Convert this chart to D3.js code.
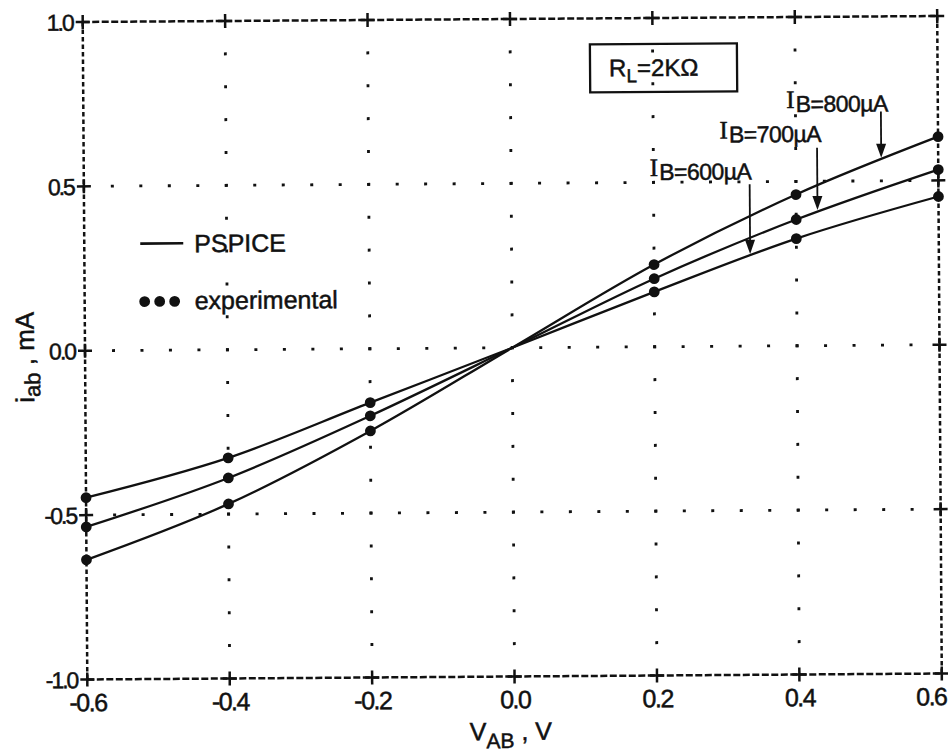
<!DOCTYPE html>
<html>
<head>
<meta charset="utf-8">
<script src="https://cdn.jsdelivr.net/npm/d3@7/dist/d3.min.js"></script>
<style>
  html, body { margin: 0; padding: 0; background: #fff; }
  svg { display: block; }
  text { font-family: "Liberation Sans", Arial, sans-serif; fill: #111; stroke: #111; stroke-width: 0.5px; }
</style>
</head>
<body>
<svg id="chart" width="948" height="754"></svg>
<script>
// ---- data ----
const vab = [-0.6, -0.4, -0.2, 0.0, 0.2, 0.4, 0.6];
const pspice800 = [-0.636, -0.469, -0.250, 0.0, 0.250, 0.460, 0.633];
const pspice700 = [-0.536, -0.390, -0.204, 0.0, 0.207, 0.384, 0.533];
const pspice600 = [-0.447, -0.329, -0.164, 0.0, 0.167, 0.326, 0.451];
const expV = [-0.6, -0.4, -0.2, 0.2, 0.4, 0.6];
const exp800 = [-0.636, -0.469, -0.250, 0.250, 0.460, 0.633];
const exp700 = [-0.536, -0.390, -0.204, 0.207, 0.384, 0.533];
const exp600 = [-0.447, -0.329, -0.164, 0.167, 0.326, 0.451];
const xTicks = [-0.6, -0.4, -0.2, 0.0, 0.2, 0.4, 0.6];
const yTicks = [-1.0, -0.5, 0.0, 0.5, 1.0];
const xGridMinor = d3.range(-14, 15).map(i => i * 0.04);
const yGridMinor = d3.range(-9, 10).map(i => i * 0.1);
const labels = ["800", "700", "600"];

// ---- layout ----
const svg = d3.select("#chart");
const x = d3.scaleLinear().domain([-0.6, 0.6]).range([85, 939.5]);
const y = d3.scaleLinear().domain([-1.0, 1.0]).range([676.5, 19]);
const g = svg.append("g").attr("transform", "rotate(-0.4, 512, 348)");
const ink = "#111";

// grid dots
const dotW = 3, dotH = 2.8;
[-0.5, 0.0, 0.5].forEach(v => {
  g.append("g").selectAll("rect").data(xGridMinor).join("rect")
    .attr("x", d => x(d) - dotW / 2).attr("y", y(v) - dotH / 2)
    .attr("width", dotW).attr("height", dotH).attr("fill", ink);
});
[-0.4, -0.2, 0.0, 0.2, 0.4].forEach(v => {
  g.append("g").selectAll("rect").data(yGridMinor).join("rect")
    .attr("x", x(v) - dotH / 2).attr("y", d => y(d) - dotW / 2)
    .attr("width", dotH).attr("height", dotW).attr("fill", ink);
});

// dashed frame
const frame = g.append("g").attr("stroke", ink).attr("stroke-width", 2.5).attr("fill", "none");
frame.append("line").attr("x1", x(-0.6)).attr("x2", x(0.6)).attr("y1", y(1)).attr("y2", y(1)).attr("stroke-dasharray", "7,2.5");
frame.append("line").attr("x1", x(-0.6)).attr("x2", x(0.6)).attr("y1", y(-1)).attr("y2", y(-1)).attr("stroke-dasharray", "7,2.5");
frame.append("line").attr("x1", x(-0.6)).attr("x2", x(-0.6)).attr("y1", y(1)).attr("y2", y(-1)).attr("stroke-dasharray", "4.5,3");
frame.append("line").attr("x1", x(0.6)).attr("x2", x(0.6)).attr("y1", y(1)).attr("y2", y(-1)).attr("stroke-dasharray", "4.5,3");

// crosses at major ticks on frame
const arm = 7;
const crossPts = [];
xTicks.forEach(v => { crossPts.push([v, 1.0]); crossPts.push([v, -1.0]); });
yTicks.filter(v => Math.abs(v) < 1).forEach(v => { crossPts.push([-0.6, v]); crossPts.push([0.6, v]); });
const cg = g.append("g").attr("stroke", ink).attr("stroke-width", 2.5);
crossPts.forEach(([a, b]) => {
  cg.append("line").attr("x1", x(a) - arm).attr("x2", x(a) + arm).attr("y1", y(b)).attr("y2", y(b));
  cg.append("line").attr("x1", x(a)).attr("x2", x(a)).attr("y1", y(b) - arm).attr("y2", y(b) + arm);
});

// axes (labels only)
const fmt = d => d.toFixed(1).replace("−", "-");
const xAxis = g.append("g").attr("transform", `translate(0,${y(-1.0)})`)
  .call(d3.axisBottom(x).tickValues(xTicks).tickSize(0).tickPadding(14).tickFormat(fmt));
const yAxis = g.append("g").attr("transform", `translate(${x(-0.6)},0)`)
  .call(d3.axisLeft(y).tickValues(yTicks).tickSize(0).tickPadding(10).tickFormat(fmt));
[xAxis, yAxis].forEach(a => {
  a.select(".domain").remove();
  a.selectAll("text").attr("fill", ink).style("font-family", "Liberation Sans, Arial, sans-serif");
});
xAxis.selectAll("text").style("font-size", "25px").style("letter-spacing", "-1.5px").attr("dy", "0.71em");
xAxis.selectAll("text").filter(d => d === 0.6).attr("text-anchor", "end").attr("dx", 4);
yAxis.selectAll("text").style("font-size", "23px").style("letter-spacing", "-2px").attr("dy", "0.35em");

// curves
const line = d3.line().x(d => x(d[0])).y(d => y(d[1])).curve(d3.curveMonotoneX);
[pspice800, pspice700, pspice600].forEach(s => {
  g.append("path").datum(vab.map((v, i) => [v, s[i]]))
    .attr("d", line).attr("fill", "none").attr("stroke", ink).attr("stroke-width", 2.3);
});
[exp800, exp700, exp600].forEach(s => {
  g.append("g").selectAll("circle").data(expV.map((v, i) => [v, s[i]])).join("circle")
    .attr("cx", d => x(d[0])).attr("cy", d => y(d[1])).attr("r", 5.4).attr("fill", ink);
});

// legend
g.append("line").attr("x1", 141).attr("x2", 184).attr("y1", 241).attr("y2", 241)
  .attr("stroke", ink).attr("stroke-width", 2.6);
g.append("text").attr("x", 195).attr("y", 250).style("font-size", "25px").text("PSPICE");
[145, 160, 175].forEach(cx => g.append("circle").attr("cx", cx).attr("cy", 299).attr("r", 5.4).attr("fill", ink));
g.append("text").attr("x", 195).attr("y", 307).style("font-size", "25px").text("experimental");

// R_L box
g.append("rect").attr("x", 592).attr("y", 45).attr("width", 147).attr("height", 48)
  .attr("fill", "none").attr("stroke", ink).attr("stroke-width", 2.3);
const rl = g.append("text").attr("x", 611).attr("y", 77).style("font-size", "24px");
rl.append("tspan").text("R");
rl.append("tspan").attr("dy", 6).style("font-size", "19px").text("L");
rl.append("tspan").attr("dy", -6).text("=2KΩ");

// I_B annotations
const ann = [
  { lab: "800", tx: 788, ty: 110, ax: 0.52, s: pspice800, ay0: 114 },
  { lab: "700", tx: 721, ty: 140, ax: 0.43, s: pspice700, ay0: 150 },
  { lab: "600", tx: 651, ty: 177, ax: 0.335, s: pspice600, ay0: 186 }
];
const interp = (s, v) => {
  const i = d3.bisectRight(vab, v) - 1;
  const t = (v - vab[i]) / (vab[i + 1] - vab[i]);
  return s[i] + t * (s[i + 1] - s[i]);
};
ann.forEach(a => {
  const t = g.append("text").attr("x", a.tx).attr("y", a.ty).style("font-size", "23px");
  t.append("tspan").style("font-family", "Liberation Serif, serif").style("font-size", "25px").text("I");
  t.append("tspan").attr("dx", 1).attr("dy", 4).style("letter-spacing", "-0.5px").text("B=" + a.lab + "µA");
  const px = x(a.ax), py = y(interp(a.s, a.ax)) - 2;
  g.append("line").attr("x1", px).attr("x2", px).attr("y1", a.ay0).attr("y2", py - 10)
    .attr("stroke", ink).attr("stroke-width", 1.8);
  g.append("path").attr("d", `M${px - 5},${py - 14} L${px + 5},${py - 14} L${px},${py} Z`).attr("fill", ink);
});

// axis titles
const xt = g.append("text").attr("x", 467).attr("y", 740).style("font-size", "25px");
xt.append("tspan").text("V");
xt.append("tspan").attr("dy", 8).style("font-size", "21px").text("AB");
xt.append("tspan").attr("dy", -8).text(" ,  V");

const yt = g.append("text").attr("transform", "translate(34,354) rotate(-90)")
  .attr("text-anchor", "middle").style("font-size", "26px");
yt.append("tspan").text("i");
yt.append("tspan").attr("dy", 6).style("font-size", "22px").text("ab");
yt.append("tspan").attr("dy", -6).text("  ,  mA");
</script>
</body>
</html>
